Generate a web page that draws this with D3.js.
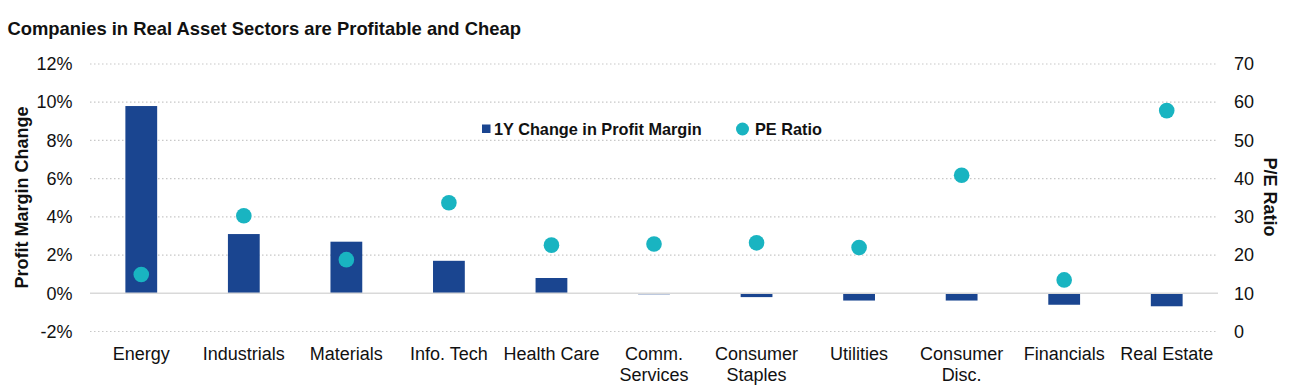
<!DOCTYPE html>
<html><head><meta charset="utf-8">
<script src="https://cdn.jsdelivr.net/npm/d3@7"></script>
<style>
body{margin:0;background:#fff;}
svg{display:block;font-family:"Liberation Sans",Arial,sans-serif;}
</style></head>
<body><svg id="c" width="1296" height="386"></svg>
<script>
const categories = ["Energy","Industrials","Materials","Info. Tech","Health Care","Comm.\nServices","Consumer\nStaples","Utilities","Consumer\nDisc.","Financials","Real Estate"];
const marginChange = [9.8, 3.1, 2.7, 1.7, 0.8, -0.05, -0.2, -0.38, -0.38, -0.6, -0.68];
const peRatio = [14.9, 30.3, 18.8, 33.7, 22.6, 22.9, 23.2, 22.0, 40.9, 13.5, 57.8];
const leftTicks = [-2, 0, 2, 4, 6, 8, 10, 12];
const rightTicks = [0, 10, 20, 30, 40, 50, 60, 70];

const FONT = "Liberation Sans, Arial, sans-serif";
const svg = d3.select("#c");
const L = 90, R = 1218, T = 64, B = 331.5;
const x = d3.scaleBand().domain(categories).range([L, R]).paddingInner(0.69).paddingOuter(0.345);
const y = d3.scaleLinear().domain([-2, 12]).range([B, T]);
const y2 = d3.scaleLinear().domain([0, 70]).range([B, T]);

svg.append("text").attr("x", 7.5).attr("y", 35).attr("font-size", 18.4).attr("font-weight", "bold")
  .attr("fill", "#111").text("Companies in Real Asset Sectors are Profitable and Cheap");

// gridlines
svg.append("g").selectAll("line").data(leftTicks.filter(d => d !== 0)).join("line")
  .attr("x1", L).attr("x2", R).attr("y1", d => y(d)).attr("y2", d => y(d))
  .attr("stroke", "#c8c8c8").attr("stroke-width", 1.2).attr("stroke-dasharray", "1.5,2.5");

// left axis
const la = svg.append("g").attr("transform", `translate(${L},0)`)
  .call(d3.axisLeft(y).tickValues(leftTicks).tickFormat(d => d + "%").tickSize(0).tickPadding(17.5));
la.select(".domain").remove();
la.selectAll("text").attr("font-size", 18).attr("fill", "#111").attr("font-family", FONT);

// right axis
const ra = svg.append("g").attr("transform", `translate(${R},0)`)
  .call(d3.axisRight(y2).tickValues(rightTicks).tickSize(0).tickPadding(16));
ra.select(".domain").remove();
ra.selectAll("text").attr("font-size", 18).attr("fill", "#111").attr("font-family", FONT);

// bars
svg.append("g").selectAll("rect").data(marginChange).join("rect")
  .attr("x", (d, i) => x(categories[i]))
  .attr("width", x.bandwidth())
  .attr("y", d => Math.min(y(d), y(0)))
  .attr("height", d => Math.max(1, Math.abs(y(d) - y(0))))
  .attr("fill", "#1a4590");

// zero line
svg.append("line").attr("x1", L).attr("x2", R).attr("y1", y(0)).attr("y2", y(0))
  .attr("stroke", "#d9d9d9").attr("stroke-width", 1.5);

// dots
svg.append("g").selectAll("circle").data(peRatio).join("circle")
  .attr("cx", (d, i) => x(categories[i]) + x.bandwidth() / 2)
  .attr("cy", d => y2(d)).attr("r", 7.8).attr("fill", "#19b4c1");

// x labels
const xl = svg.append("g").selectAll("text").data(categories).join("text")
  .attr("x", d => x(d) + x.bandwidth() / 2).attr("y", 360)
  .attr("text-anchor", "middle").attr("font-size", 18).attr("fill", "#111");
xl.each(function (d) {
  d.split("\n").forEach((s, j) => {
    d3.select(this).append("tspan").attr("x", x(d) + x.bandwidth() / 2).attr("dy", j === 0 ? 0 : 21).text(s);
  });
});

// axis titles
svg.append("text").attr("transform", "translate(28,197.5) rotate(-90)").attr("text-anchor", "middle")
  .attr("font-size", 18).attr("font-weight", "bold").attr("fill", "#111").text("Profit Margin Change");
svg.append("text").attr("transform", "translate(1263.5,197) rotate(90)").attr("text-anchor", "middle")
  .attr("font-size", 18).attr("font-weight", "bold").attr("fill", "#111").text("P/E Ratio");

// legend
const lg = svg.append("g");
lg.append("rect").attr("x", 482).attr("y", 124.5).attr("width", 8.5).attr("height", 8.5).attr("fill", "#1a4590");
lg.append("text").attr("x", 494).attr("y", 134.5).attr("font-size", 16.3).attr("font-weight", "bold").attr("fill", "#111").text("1Y Change in Profit Margin");
lg.append("circle").attr("cx", 742.5).attr("cy", 129).attr("r", 6.5).attr("fill", "#19b4c1");
lg.append("text").attr("x", 755).attr("y", 134.5).attr("font-size", 16.3).attr("font-weight", "bold").attr("fill", "#111").text("PE Ratio");
</script></body></html>
